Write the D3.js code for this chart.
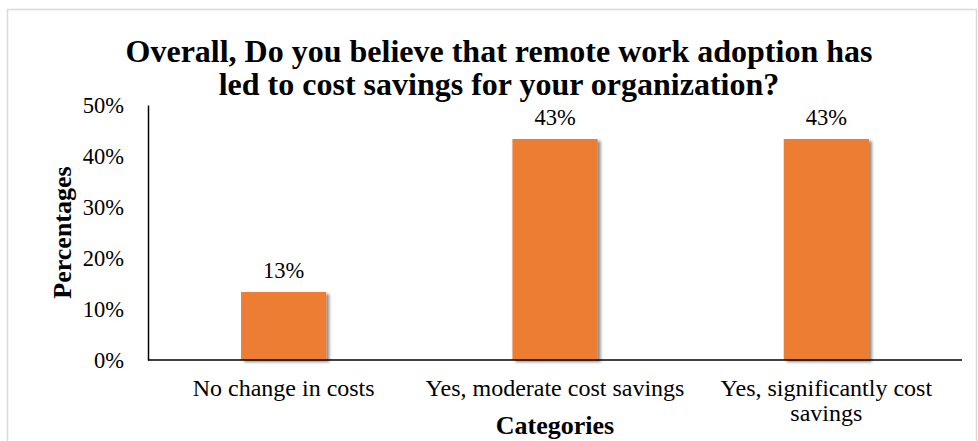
<!DOCTYPE html>
<html>
<head>
<meta charset="utf-8">
<script src="https://cdn.jsdelivr.net/npm/d3@7"></script>
<style>
  html, body { margin: 0; padding: 0; background: #fff; }
  svg { display: block; }
  text { font-family: "Liberation Serif", "Times New Roman", serif; fill: #000; }
</style>
</head>
<body>
<svg id="chart" width="978" height="441"></svg>
<script>
// Survey answers and their shares of respondents
const categories = ["No change in costs", "Yes, moderate cost savings", "Yes, significantly cost savings"];
const shares = [0.1333, 0.4333, 0.4333];
const yTicks = [0, 0.1, 0.2, 0.3, 0.4, 0.5];
const titleLines = ["Overall, Do you believe that remote work adoption has", "led to cost savings for your organization?"];
// Category labels wrapped onto lines as they are printed under the axis
const categoryLines = [["No change in costs"], ["Yes, moderate cost savings"], ["Yes, significantly cost", "savings"]];

const svg = d3.select("#chart");
const margin = { left: 148, right: 16, top: 105, bottom: 81 };
const W = 978, H = 441;

// chart frame
svg.append("rect")
  .attr("x", 7.5).attr("y", 9.5)
  .attr("width", 969).attr("height", 440)
  .attr("fill", "#fff").attr("stroke", "#d9d9d9").attr("stroke-width", 1.5);

// soft drop shadow for bars
const defs = svg.append("defs");
const f = defs.append("filter").attr("id", "shadow")
  .attr("x", "-20%").attr("y", "-20%").attr("width", "150%").attr("height", "150%");
f.append("feDropShadow").attr("dx", 3).attr("dy", 2).attr("stdDeviation", 1.8)
  .attr("flood-color", "#000").attr("flood-opacity", 0.45);

const x = d3.scaleBand().domain(categories)
  .range([margin.left, W - margin.right]).paddingInner(0.686).paddingOuter(0.343);
const y = d3.scaleLinear().domain([0, 0.5]).range([H - margin.bottom, margin.top]);

// title
const title = svg.append("text").attr("text-anchor", "middle")
  .attr("font-weight", "bold").attr("font-size", 32);
titleLines.forEach((t, i) => {
  title.append("tspan").attr("x", 499).attr("y", 62 + i * 33).text(t);
});

// bars
svg.append("g").selectAll("rect").data(categories).join("rect")
  .attr("x", d => x(d))
  .attr("y", (d, i) => y(shares[i]))
  .attr("width", x.bandwidth())
  .attr("height", (d, i) => y(0) - y(shares[i]))
  .attr("fill", "#ed7d31")
  .attr("filter", "url(#shadow)");

// value labels
const fmt = d3.format(".0%");
svg.append("g").selectAll("text").data(categories).join("text")
  .attr("x", d => x(d) + x.bandwidth() / 2)
  .attr("y", (d, i) => y(shares[i]) - 14)
  .attr("text-anchor", "middle").attr("font-size", 22.5)
  .text((d, i) => fmt(shares[i]));

// y axis
const yAxis = svg.append("g").attr("transform", `translate(${margin.left},0)`)
  .call(d3.axisLeft(y).tickValues(yTicks).tickFormat(d3.format(".0%")).tickSize(0).tickPadding(24));
yAxis.select(".domain").attr("stroke", "#000").attr("stroke-width", 1.5);
yAxis.selectAll("text").attr("font-size", 22.5).attr("font-family", "Liberation Serif, serif").attr("fill", "#000");

// x axis
const xAxis = svg.append("g").attr("transform", `translate(0,${y(0)})`)
  .call(d3.axisBottom(x).tickSize(0).tickFormat(""));
xAxis.select(".domain").attr("stroke", "#000").attr("stroke-width", 1.5)
  .attr("d", `M${margin.left},0H${W - margin.right}`);

// category labels
categoryLines.forEach((lines, i) => {
  const t = svg.append("text").attr("text-anchor", "middle").attr("font-size", 24);
  lines.forEach((ln, j) => {
    t.append("tspan").attr("x", x(categories[i]) + x.bandwidth() / 2)
      .attr("y", y(0) + 36 + j * 24.5).text(ln);
  });
});

// axis titles
svg.append("text").attr("x", x(categories[1]) + x.bandwidth() / 2).attr("y", 434)
  .attr("text-anchor", "middle").attr("font-weight", "bold").attr("font-size", 26)
  .text("Categories");
svg.append("text")
  .attr("transform", `translate(71,${(y(0) + y(0.5)) / 2}) rotate(-90)`)
  .attr("text-anchor", "middle").attr("font-weight", "bold").attr("font-size", 26)
  .text("Percentages");
</script>
</body>
</html>
